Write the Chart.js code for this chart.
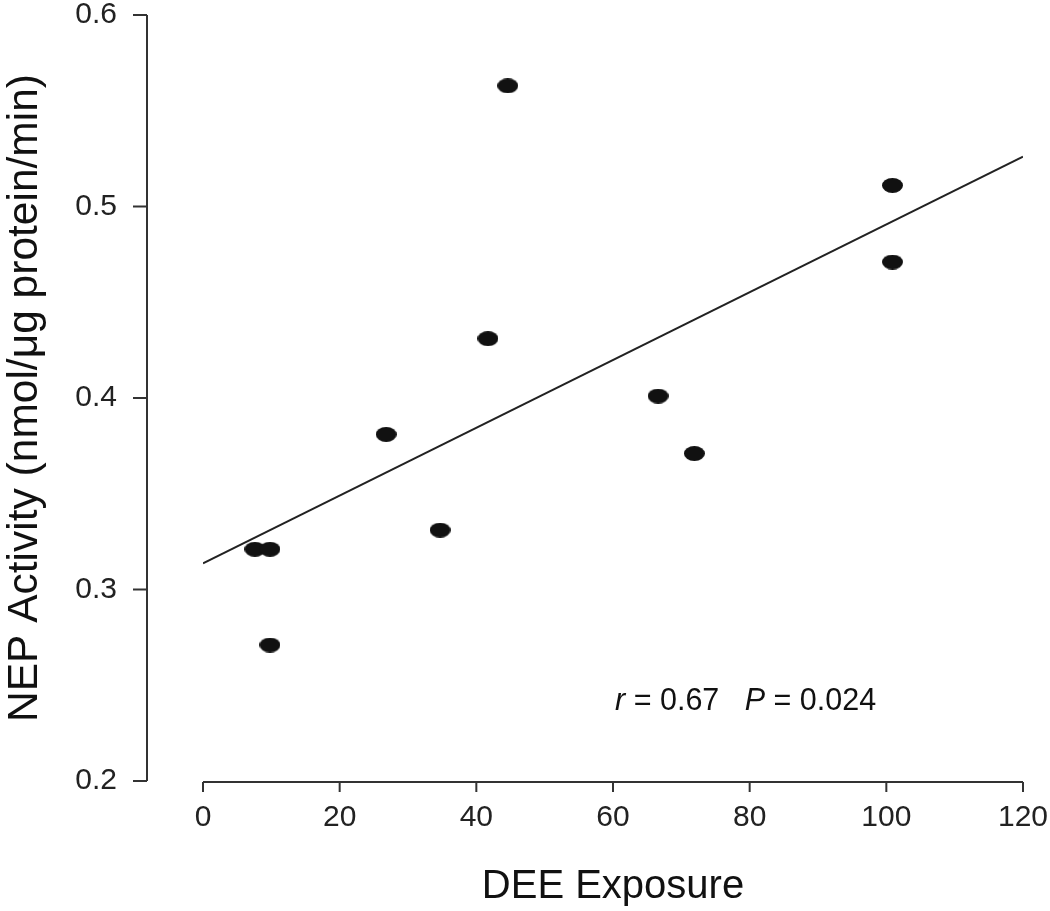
<!DOCTYPE html>
<html lang="en">
<head>
<meta charset="UTF-8">
<title>NEP Activity vs DEE Exposure</title>
<script src="https://cdn.jsdelivr.net/npm/chart.js@4"></script>
<style>
  html, body { margin: 0; padding: 0; background: #fff; }
</style>
</head>
<body>
<canvas id="nepChart" width="1050" height="911"></canvas>
<script>
// values
const deeExposure = [44.6, 100.9, 100.9, 41.7, 66.6, 26.8, 71.9, 34.7, 7.6, 9.8, 9.8];
const nepActivity = [0.563, 0.511, 0.471, 0.431, 0.401, 0.381, 0.371, 0.331, 0.321, 0.321, 0.271];

// fitted regression line (end points)
const fitX = [0, 120];
const fitY = [0.3137, 0.526];

const xTicks = [0, 20, 40, 60, 80, 100, 120];
const yTicks = [0.2, 0.3, 0.4, 0.5, 0.6];

const xTitle = 'DEE Exposure';
const yTitle = 'NEP Activity (nmol/\u03bcg protein/min)';
// r and P are drawn in italics
const statsParts = [['r', true], [' = 0.67', false], ['   ', false], ['P', true], [' = 0.024', false]];

const FONT = "'Liberation Sans', Arial, Helvetica, sans-serif";
Chart.defaults.font.family = FONT;

// filled ellipse used as the marker
function ellipseMarker(w, h, color) {
    const c = document.createElement('canvas');
    c.width = w; c.height = h;
    const g = c.getContext('2d');
    g.fillStyle = color;
    g.beginPath();
    g.ellipse(w / 2, h / 2, w / 2, h / 2, 0, 0, Math.PI * 2);
    g.fill();
    return c;
}

// R-style detached axes plus the r / P note
const rAxes = {
    id: 'rAxes',
    afterDraw(chart) {
        const { ctx, chartArea, scales: { x, y } } = chart;
        ctx.save();
        ctx.strokeStyle = '#333';
        ctx.lineWidth = 2;
        ctx.beginPath();
        const ax = chartArea.left - 56;
        ctx.moveTo(ax, y.getPixelForValue(yTicks[yTicks.length - 1]));
        ctx.lineTo(ax, y.getPixelForValue(yTicks[0]));
        yTicks.forEach(v => {
            const p = y.getPixelForValue(v);
            ctx.moveTo(ax, p);
            ctx.lineTo(ax - 14, p);
        });
        const ay = chartArea.bottom + 1;
        ctx.moveTo(x.getPixelForValue(xTicks[0]), ay);
        ctx.lineTo(x.getPixelForValue(xTicks[xTicks.length - 1]), ay);
        xTicks.forEach(v => {
            const p = x.getPixelForValue(v);
            ctx.moveTo(p, ay);
            ctx.lineTo(p, ay + 10);
        });
        ctx.stroke();

        // statistics note
        let tx = x.getPixelForValue(60.3);
        const ty = y.getPixelForValue(0.2413);
        ctx.fillStyle = '#111';
        ctx.textBaseline = 'middle';
        ctx.textAlign = 'left';
        statsParts.forEach(([t, it]) => {
            ctx.font = (it ? 'italic ' : '') + '30.5px ' + FONT;
            ctx.fillText(t, tx, ty);
            tx += ctx.measureText(t).width;
        });
        ctx.restore();
    }
};

const ctx = document.getElementById('nepChart').getContext('2d');
new Chart(ctx, {
    type: 'scatter',
    data: {
        datasets: [{
            label: 'NEP activity',
            data: deeExposure.map((v, i) => ({ x: v, y: nepActivity[i] })),
            pointStyle: ellipseMarker(21, 15, '#111'),
            pointRadius: 10,
            backgroundColor: '#111',
            borderWidth: 0
        }, {
            label: 'fit',
            data: fitX.map((v, i) => ({ x: v, y: fitY[i] })),
            showLine: true,
            borderColor: '#222',
            borderWidth: 2,
            pointRadius: 0
        }]
    },
    options: {
        responsive: false,
        animation: false,
        layout: { padding: { top: 15, right: 27, left: 0, bottom: 0 } },
        plugins: { legend: { display: false }, tooltip: { enabled: false } },
        scales: {
            x: {
                type: 'linear', min: 0, max: 120,
                afterBuildTicks: s => { s.ticks = xTicks.map(v => ({ value: v })); },
                grid: { display: false, drawTicks: false },
                border: { display: false },
                ticks: { font: { size: 30 }, color: '#222', padding: 19, maxRotation: 0 },
                title: { display: true, text: xTitle, font: { size: 40 }, color: '#111', padding: 0 },
                afterFit: s => { s.height = 130; s.paddingLeft = 0; s.paddingRight = 0; }
            },
            y: {
                type: 'linear', min: 0.2, max: 0.6,
                afterBuildTicks: s => { s.ticks = yTicks.map(v => ({ value: v })); },
                grid: { display: false, drawTicks: false },
                border: { display: false },
                ticks: { font: { size: 30 }, color: '#222', padding: 86, callback: v => v.toFixed(1) },
                title: { display: true, text: yTitle, font: { size: 42.5 }, color: '#111', padding: 0 },
                afterFit: s => { s.width = 203; s.paddingTop = 0; s.paddingBottom = 0; }
            }
        }
    },
    plugins: [rAxes]
});
</script>
</body>
</html>
